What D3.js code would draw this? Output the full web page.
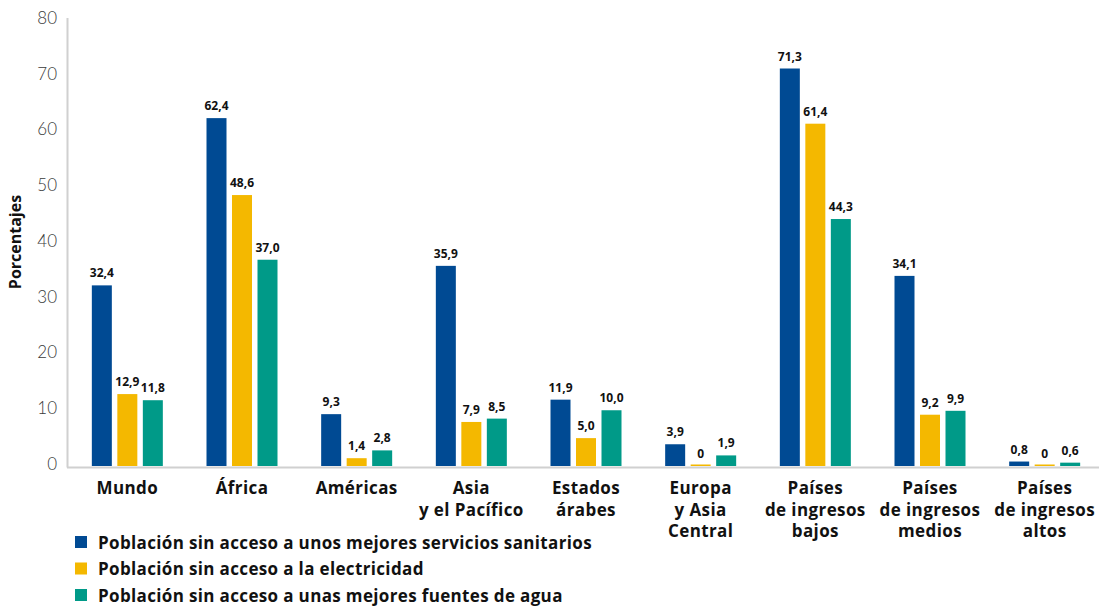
<!DOCTYPE html>
<html>
<head>
<meta charset="utf-8">
<script src="https://cdn.jsdelivr.net/npm/d3@7"></script>
<style>
  html, body { margin: 0; padding: 0; background: #fff; }
  svg { display: block; font-family: "Open Sans", Lato, sans-serif; }
</style>
</head>
<body>
<svg id="chart" width="1101" height="607"></svg>
<script>
// Regions and income groups (line breaks mark wrapped labels)
const categories = [
  "Mundo",
  "África",
  "Américas",
  "Asia\ny el Pacífico",
  "Estados\nárabes",
  "Europa\ny Asia\nCentral",
  "Países\nde ingresos\nbajos",
  "Países\nde ingresos\nmedios",
  "Países\nde ingresos\naltos"
];

const seriesNames = [
  "Población sin acceso a unos mejores servicios sanitarios",
  "Población sin acceso a la electricidad",
  "Población sin acceso a unas mejores fuentes de agua"
];

// Percentages per series, in category order
const saneamiento = [32.4, 62.4, 9.3, 35.9, 11.9, 3.9, 71.3, 34.1, 0.8];
const electricidad = [12.9, 48.6, 1.4, 7.9, 5.0, 0, 61.4, 9.2, 0];
const agua = [11.8, 37.0, 2.8, 8.5, 10.0, 1.9, 44.3, 9.9, 0.6];

const yTicks = [0, 10, 20, 30, 40, 50, 60, 70, 80];
const colors = ["#004a93", "#f4b800", "#009a88"];

const seriesValues = [saneamiento, electricidad, agua];
const rows = categories.map((c, i) => ({
  cat: c,
  values: seriesValues.map((s, k) => ({ key: k, value: s[i] }))
}));

const svg = d3.select("#chart");

const x0 = d3.scaleBand().domain(categories).range([70, 1102]).padding(0);
const x1 = d3.scaleBand().domain([0, 1, 2]).range([-41, 41]).padding(0.2157);
const y = d3.scaleLinear().domain([0, 80]).range([466, 20]);

const fmt = v => v === 0 ? "0" : v.toFixed(1).replace(".", ",");

// Axis lines
svg.append("line")
  .attr("x1", 67.5).attr("x2", 67.5)
  .attr("y1", 18).attr("y2", 467.5)
  .attr("stroke", "#d0d0d0").attr("stroke-width", 2);
svg.append("line")
  .attr("x1", 67).attr("x2", 1099)
  .attr("y1", 467.5).attr("y2", 467.5)
  .attr("stroke", "#d0d0d0").attr("stroke-width", 2);

// Y axis tick labels
const yAxis = d3.axisLeft(y).tickValues(yTicks).tickSize(0).tickPadding(0);
const yg = svg.append("g").attr("transform", "translate(57,-2)").call(yAxis);
yg.select(".domain").remove();
yg.selectAll("text")
  .attr("font-size", 17)
  .attr("font-family", "Lato, 'Open Sans', sans-serif")
  .attr("font-weight", 300)
  .attr("fill", "#3a3a3a");

// Y axis title
svg.append("text")
  .attr("transform", "translate(21,242) rotate(-90)")
  .attr("text-anchor", "middle")
  .attr("font-size", 16)
  .attr("font-weight", "bold")
  .attr("fill", "#111")
  .text("Porcentajes");

// Bars and value labels
const groups = svg.append("g").selectAll("g")
  .data(rows)
  .join("g")
  .attr("transform", d => `translate(${x0(d.cat) + x0.bandwidth() / 2},0)`);

groups.selectAll("rect")
  .data(d => d.values)
  .join("rect")
  .attr("x", d => x1(d.key))
  .attr("width", x1.bandwidth())
  .attr("y", d => Math.min(y(d.value), y(0) - 1.5))
  .attr("height", d => Math.max(y(0) - y(d.value), 1.5))
  .attr("fill", d => colors[d.key]);

groups.selectAll("text.val")
  .data(d => d.values)
  .join("text")
  .attr("class", "val")
  .attr("x", d => x1(d.key) + x1.bandwidth() / 2)
  .attr("y", d => y(d.value) - 8)
  .attr("text-anchor", "middle")
  .attr("font-size", 12)
  .attr("font-weight", "bold")
  .attr("fill", "#111")
  .text(d => fmt(d.value));

// Category labels
const catLabels = svg.append("g").selectAll("text")
  .data(categories)
  .join("text")
  .attr("x", d => x0(d) + x0.bandwidth() / 2)
  .attr("y", 494)
  .attr("text-anchor", "middle")
  .attr("font-size", 17)
  .attr("letter-spacing", 0.4)
  .attr("font-weight", "bold")
  .attr("fill", "#111");
catLabels.selectAll("tspan")
  .data(d => d.split("\n"))
  .join("tspan")
  .attr("x", function () { return d3.select(this.parentNode).attr("x"); })
  .attr("dy", (d, i) => i === 0 ? 0 : 21.5)
  .text(d => d);

// Legend
const legend = svg.append("g").selectAll("g")
  .data(seriesNames)
  .join("g")
  .attr("transform", (d, i) => `translate(75,${542 + i * 26.5})`);
legend.append("rect")
  .attr("x", 0).attr("y", -6)
  .attr("width", 12).attr("height", 12)
  .attr("fill", (d, i) => colors[i]);
legend.append("text")
  .attr("x", 23).attr("y", 6.5)
  .attr("font-size", 17)
  .attr("letter-spacing", 0.35)
  .attr("font-weight", "bold")
  .attr("fill", "#111")
  .text(d => d);
</script>
</body>
</html>
